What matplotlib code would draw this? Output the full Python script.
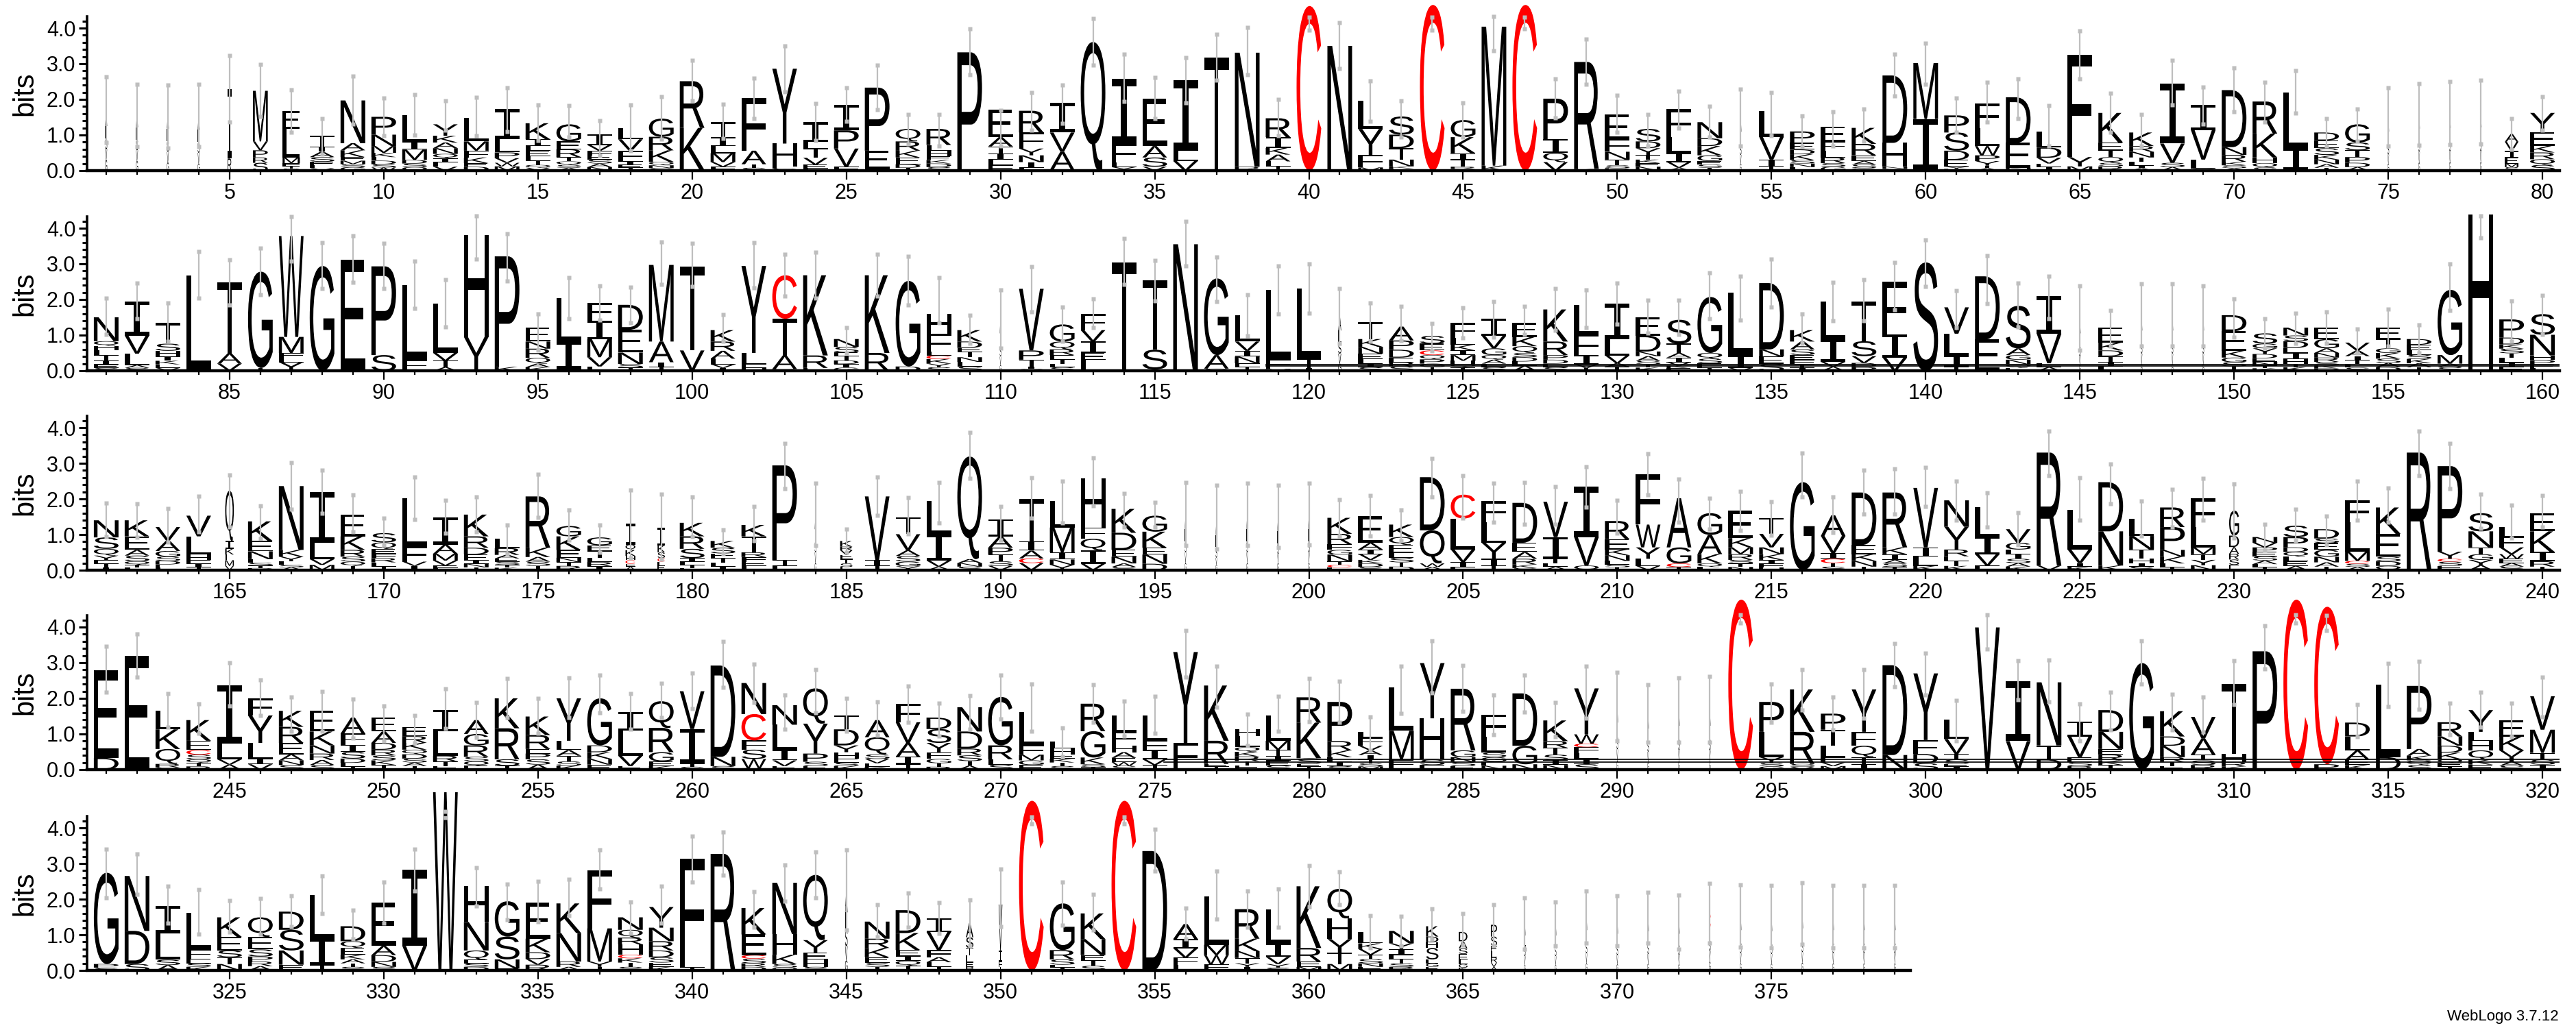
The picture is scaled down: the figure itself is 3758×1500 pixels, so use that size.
import numpy as np
import matplotlib
matplotlib.use("Agg")
import matplotlib.pyplot as plt
from matplotlib.textpath import TextPath
from matplotlib.patches import PathPatch
from matplotlib.font_manager import FontProperties
from matplotlib.transforms import Affine2D

plt.rcParams['font.family'] = ['Liberation Sans', 'DejaVu Sans']

# each row of the logo: first and last position
row_ranges = [(1, 80), (81, 160), (161, 240), (241, 320), (321, 379)]

# letter stacks, one string per position, letters listed top -> bottom with height in bits
stacks_row1 = [
    "A0.4 L0.35 S0.3 V0.3 G0.3", "A0.4 L0.35 S0.3 V0.3 G0.27", "A0.4 L0.35 S0.3 V0.3 G0.23", "A0.4 L0.35 S0.3 V0.3 G0.2",
    "I1.95 R0.34", "M1.42 V0.25 P0.2 R0.15 S0.22", "E0.5 L0.8 M0.16 F0.08 T0.07 S0.06", "T0.3 I0.15 A0.15 S0.13 E0.1 L0.08 V0.07",
    "N1.2 A0.2 K0.19 E0.1 M0.1 S0.08 G0.1", "P0.5 N0.32 M0.19 K0.12 L0.1 D0.1 S0.09 W0.09",
    "L0.74 I0.22 M0.29 D0.1 S0.1 Q0.1", "Y0.32 K0.19 A0.16 N0.16 Q0.12 I0.12 L0.12 V0.11",
    "L0.67 M0.26 F0.19 K0.16 E0.1 D0.11", "I0.84 L0.38 P0.16 V0.13 W0.1 M0.12",
    "K0.45 I0.19 L0.13 E0.15 F0.12 T0.13 Q0.08 V0.08", "G0.48 E0.22 R0.22 T0.12 Q0.1 S0.08 A0.08",
    "I0.29 V0.16 F0.13 E0.12 S0.11 A0.1 N0.1", "L0.32 V0.32 F0.29 I0.1 E0.09 T0.08",
    "G0.51 R0.38 K0.32 Q0.1 N0.08 S0.07", "R1.31 K1.18 S0.02",
    "T0.42 I0.25 L0.2 M0.25 V0.13 F0.11", "F1.47 A0.38 T0.1 S0.08", "Y2.1 H0.64 E0.06 S0.06",
    "I0.55 L0.19 T0.26 V0.19 E0.1 F0.07", "I0.72 P0.51 V0.51 F0.11", "P1.77 E0.51 T0.05",
    "Q0.35 R0.26 K0.19 E0.19 D0.1 T0.08", "R0.45 L0.16 H0.16 E0.1 K0.1 D0.1 S0.1", "P3.32",
    "E0.77 A0.26 T0.2 I0.18 L0.15 F0.15", "R0.61 F0.45 Y0.19 N0.19 I0.16 L0.08", "I0.83 V0.54 A0.51 L0.02",
    "Q3.61", "I1.82 F0.51 L0.14 Y0.1", "E1.33 A0.32 S0.26 V0.11", "I1.98 L0.29 V0.27", "T3.17", "N3.2 R0.11",
    "R0.53 I0.3 K0.19 A0.19 L0.14 T0.12", "C4.62", "N3.48 S0.02", "L0.8 Y0.73 F0.35 M0.09",
    "S0.51 D0.38 T0.32 N0.19 K0.06 E0.06", "C4.65", "G0.48 K0.45 I0.19 T0.19 R0.06 Q0.05", "M3.9 K0.14",
    "C4.65", "P1.14 I0.38 Q0.26 V0.24", "R3.0 K0.05", "E0.7 F0.35 N0.22 T0.16 S0.08 D0.07",
    "S0.35 D0.19 Y0.19 T0.13 K0.1 E0.1 N0.11", "F0.78 L0.45 I0.26 V0.16 A0.08",
    "N0.45 D0.22 K0.26 G0.16 E0.1 S0.09 T0.08", "A0.4 L0.35 S0.3 V0.24 G0.2", "L0.72 V0.64 I0.19 T0.12",
    "P0.32 E0.19 D0.13 K0.16 S0.1 N0.1 L0.1", "E0.41 F0.26 L0.19 R0.16 S0.1 G0.11",
    "K0.45 R0.32 E0.16 A0.1 S0.1 G0.07", "D1.89 H0.67 N0.06 S0.05", "M1.57 I1.45",
    "P0.48 S0.51 D0.26 E0.19 Y0.06 K0.05", "F0.69 L0.51 W0.26 P0.16 Y0.13 T0.07 A0.07", "D1.28 E0.7 N0.04 S0.04",
    "L0.45 D0.29 V0.16 E0.1 I0.1", "F2.87 Y0.26 M0.12", "K0.83 E0.22 T0.19 Q0.16 S0.1 R0.12",
    "K0.38 R0.16 N0.16 T0.12 L0.1 I0.08 A0.07", "I1.69 V0.54 S0.12 A0.1", "I0.7 V0.83 L0.26 S0.05",
    "D1.6 N0.22 R0.19 K0.1 S0.08 A0.07", "R0.9 K0.67 H0.16 Q0.12 S0.09", "L1.57 I0.6 V0.02",
    "D0.22 E0.22 S0.19 K0.13 N0.13 A0.1 T0.08", "G0.51 S0.22 T0.19 P0.16 D0.12 A0.1",
    "A0.4 L0.35 S0.3 V0.25 G0.2", "A0.4 L0.35 S0.3 V0.3 G0.23", "A0.42 L0.36 S0.3 V0.3 G0.24",
    "A0.42 L0.36 S0.32 V0.3 G0.24", "A0.22 V0.26 I0.19 E0.16 M0.1 S0.1", "Y0.54 E0.38 K0.19 R0.19 Q0.16 S0.16",
]
err_hi_row1 = [2.64, 2.42, 2.40, 2.42, 3.23, 2.99, 2.26, 1.47, 2.65, 2.03, 2.13, 1.97, 2.06, 2.33, 1.85, 1.82,
               1.41, 1.85, 2.08, 3.1, 1.87, 2.6, 3.5, 1.89, 2.33, 2.96, 1.57, 1.58, 3.98, 1.7, 2.2, 2.4, 4.27,
               3.26, 2.62, 3.18, 3.83, 4.01, 2.0, 4.3, 4.15, 2.51, 1.97, 4.3, 1.9, 4.33, 4.3, 2.57, 3.7, 2.11,
               1.57, 2.24, 1.81, 2.29, 2.19, 1.53, 1.66, 1.74, 3.26, 3.58, 2.03, 2.48, 2.57, 1.82, 3.92, 2.17,
               1.57, 3.09, 2.35, 2.89, 2.49, 2.8, 1.46, 1.74, 2.32, 2.45, 2.5, 2.54, 1.47, 2.08]
err_lo_row1 = [0.79, 0.68, 0.64, 0.68, 1.36, 1.52, 1.07, 0.47, 1.3, 0.98, 1.0, 1.14, 0.98, 1.1, 0.85, 0.95,
               0.43, 0.56, 0.88, 1.97, 0.91, 1.46, 2.22, 0.85, 1.39, 1.71, 0.75, 0.69, 2.69, 0.69, 1.14, 1.33,
               2.96, 1.94, 1.46, 1.9, 2.53, 2.7, 0.98, 3.95, 2.86, 1.39, 0.95, 3.95, 0.95, 3.37, 3.98, 1.49,
               2.42, 1.07, 0.69, 1.2, 0.95, 0.69, 0.98, 0.69, 0.69, 0.82, 2.1, 2.42, 1.07, 1.36, 1.46, 0.69,
               2.57, 1.07, 0.69, 1.84, 1.3, 1.65, 1.36, 1.62, 0.69, 0.82, 0.69, 0.72, 0.74, 0.75, 0.6, 1.14]

stacks_row2 = [
    "N0.67 Q0.13 H0.13 L0.14 T0.14 I0.12 E0.09 S0.08", "I0.96 V0.51 L0.32 A0.08 S0.08",
    "T0.58 S0.2 H0.16 I0.12 K0.1 E0.1 V0.08", "L2.68", "T2.0 A0.29 V0.2", "G2.7 T0.08",
    "W2.83 M0.45 F0.13 L0.13 Y0.24", "G2.94", "E3.12", "P2.49 S0.44", "L2.1 F0.31", "L1.38 V0.22 T0.18 A0.1",
    "H2.86 Y0.95", "P3.1 K0.11", "E0.4 N0.2 R0.26 Q0.16 A0.1 K0.1", "L1.22 I0.77 F0.05",
    "F0.51 I0.51 M0.51 V0.26 L0.12", "D0.7 E0.64 N0.32 S0.1 T0.09", "M2.15 A0.58 I0.14 T0.1", "T2.36 V0.57",
    "K0.32 R0.26 A0.22 L0.16 V0.1 I0.08", "Y2.44 L0.32 E0.1 H0.08", "C1.22 T1.03 A0.38 R0.05",
    "K2.25 R0.35 E0.08", "N0.22 S0.16 E0.1 T0.12 D0.1 I0.1 G0.09", "K2.18 R0.5", "G2.4 D0.12",
    "H0.55 F0.51 L0.1 C0.1 K0.13 Y0.1 S0.1", "K0.32 D0.18 E0.11 T0.15 N0.13 L0.13 S0.12",
    "A0.4 L0.35 S0.3 V0.24 G0.16", "V1.73 P0.26 T0.19 I0.07 S0.05", "G0.48 Q0.22 R0.16 E0.12 T0.12 L0.1 S0.1",
    "F0.45 V0.32 I0.32 E0.2 L0.3", "T3.0 A0.04", "T1.95 S0.55 I0.04", "N3.55", "G2.15 A0.38 S0.06",
    "L0.74 V0.26 I0.16 N0.19 F0.1 T0.11", "L1.95 F0.27 M0.05", "L1.96 T0.26 I0.08",
    "A0.4 L0.35 S0.3 V0.28 G0.2", "T0.48 K0.22 N0.19 E0.16 L0.12 I0.1 S0.1", "A0.39 P0.26 D0.22 E0.13 R0.12 S0.12",
    "S0.22 E0.19 C0.13 Q0.12 P0.12 G0.1 T0.1", "F0.42 L0.19 K0.16 I0.13 M0.16 H0.1 Q0.09 T0.09",
    "I0.48 V0.35 G0.19 Q0.13 A0.11 L0.1 S0.1", "E0.39 K0.26 Q0.19 S0.12 D0.12 L0.12 A0.14",
    "K0.9 R0.38 P0.13 D0.11 E0.1 S0.1", "L0.83 F0.58 I0.26 V0.1 T0.08", "I1.0 L0.45 V0.22 A0.1 T0.11",
    "E0.51 D0.45 N0.13 A0.13 S0.1 T0.09 K0.09", "S0.67 T0.26 A0.13 I0.13 V0.1 K0.07 E0.07",
    "G1.57 Q0.16 S0.13 E0.12 T0.09", "L1.77 I0.35 V0.08", "D1.86 N0.2 E0.2 S0.2",
    "K0.32 A0.22 S0.16 E0.13 F0.12 T0.1 I0.09", "L1.06 I0.64 V0.14 A0.11", "T1.12 S0.42 V0.19 D0.12 P0.1",
    "F1.49 I0.64 V0.37", "S3.04", "V0.74 L0.61 I0.32 T0.11", "D1.77 E0.88", "S1.19 A0.19 G0.13 N0.13 Q0.1 E0.08",
    "I1.06 V0.83 L0.11 A0.1", "A0.4 L0.35 S0.3 V0.24 G0.16", "E0.42 K0.22 D0.16 T0.16 I0.13 L0.12",
    "A0.42 L0.35 S0.3 V0.28 G0.2", "A0.42 L0.35 S0.3 V0.28 G0.2", "A0.42 L0.35 S0.3 V0.28 G0.2",
    "D0.45 E0.55 K0.19 G0.13 S0.12 T0.12", "S0.29 G0.13 Y0.16 D0.12 E0.1 N0.1 T0.08 K0.07",
    "N0.22 S0.16 D0.19 E0.13 I0.19 H0.12 T0.1 K0.1", "E0.32 G0.26 A0.13 N0.13 R0.12 S0.1 K0.08 D0.07",
    "V0.22 A0.16 I0.12 T0.1 L0.1 S0.09", "E0.32 T0.26 G0.13 K0.16 S0.12 A0.12 D0.1",
    "D0.16 E0.16 L0.12 S0.12 K0.12 A0.11 T0.1", "G1.83 M0.24 A0.1 S0.1", "H4.38",
    "P0.51 D0.19 K0.12 S0.13 T0.13 L0.13 I0.13 E0.1", "S0.58 N0.58 H0.13 P0.13 E0.1 L0.07",
]
err_hi_row2 = [2.04, 2.47, 1.9, 3.34, 3.12, 3.45, 4.33, 3.6, 3.78, 3.57, 3.07, 2.56, 4.34, 3.85, 1.59, 2.61,
               2.39, 2.35, 3.61, 3.58, 1.58, 3.6, 3.27, 3.33, 1.22, 3.27, 3.21, 2.61, 1.56, 2.27, 2.93, 1.78,
               2.01, 3.71, 3.09, 4.19, 3.2, 2.14, 2.94, 3.0, 2.3, 1.91, 1.8, 1.32, 1.77, 1.95, 1.8, 2.3, 2.27,
               2.46, 1.98, 1.99, 2.75, 2.65, 3.13, 1.59, 2.48, 2.56, 3.04, 3.68, 2.25, 3.23, 2.46, 2.65, 2.39,
               1.69, 2.44, 2.44, 2.39, 2.01, 1.46, 1.61, 1.66, 1.17, 1.74, 1.28, 3.0, 4.35, 1.96, 2.11]
err_lo_row2 = [1.01, 1.46, 0.82, 2.04, 1.85, 2.14, 3.07, 2.3, 2.49, 2.3, 1.75, 1.24, 3.13, 2.52, 0.57, 1.46,
               1.43, 1.34, 2.43, 2.36, 0.82, 2.33, 2.1, 2.03, 0.5, 2.1, 1.85, 1.34, 0.76, 0.63, 1.66, 0.82,
               1.21, 2.43, 1.96, 2.94, 1.95, 0.98, 1.59, 1.62, 0.76, 0.82, 0.85, 0.56, 0.92, 0.95, 1.01, 1.14,
               1.21, 1.3, 1.05, 1.01, 1.46, 1.43, 1.78, 0.76, 1.4, 1.4, 1.72, 2.36, 1.21, 1.88, 1.24, 1.46,
               0.57, 0.69, 0.69, 0.69, 0.69, 0.95, 0.63, 0.76, 0.76, 0.5, 0.69, 0.5, 1.69, 3.74, 0.82, 1.01]

stacks_row3 = [
    "N0.48 S0.32 Q0.19 Y0.13 E0.1 T0.1 I0.08", "K0.45 E0.38 A0.16 S0.16 Q0.1 T0.08 L0.07",
    "V0.38 A0.29 G0.16 S0.12 D0.1 E0.09 L0.07", "V0.58 L0.51 H0.16 E0.1 I0.09 T0.09",
    "Q1.41 I0.22 K0.16 L0.16 M0.16 V0.12", "K0.55 E0.29 N0.22 L0.1 S0.08 T0.07 D0.06",
    "N1.79 K0.19 Y0.13 L0.1 S0.07 A0.08", "I1.44 L0.45 V0.16 M0.15", "E0.61 K0.38 R0.19 S0.14 Q0.12 T0.12",
    "S0.26 Q0.19 E0.13 F0.12 R0.12 L0.11 T0.11", "L1.35 F0.42 V0.12 I0.12", "I0.77 A0.26 M0.19 V0.14 E0.07 L0.06",
    "K0.61 R0.32 D0.19 E0.16 I0.1 N0.1 T0.08", "L0.26 R0.19 A0.1 E0.1 S0.08 T0.08 K0.07",
    "R1.44 K0.26 A0.13 S0.12 T0.12", "G0.29 K0.38 E0.22 N0.12 T0.11 R0.12", "G0.22 E0.16 T0.19 L0.12 R0.12 I0.11",
    "I0.58 Q0.16 K0.16 H0.12 C0.1 E0.08 A0.1", "I0.5 K0.2 S0.16 C0.1 L0.12 E0.12",
    "K0.38 R0.35 S0.26 I0.1 L0.1 T0.08 E0.06", "K0.19 S0.16 E0.13 T0.12 L0.12 I0.1",
    "K0.32 T0.45 R0.13 F0.13 E0.12 L0.12", "P2.66 T0.15 F0.13", "A0.4 L0.35 S0.3 V0.3 G0.2",
    "K0.16 R0.1 V0.13 E0.12 T0.12 S0.1 L0.09", "V1.79 I0.16 T0.12", "T0.48 V0.45 A0.16 S0.16 G0.13 Y0.11",
    "L0.93 I0.74 V0.17 A0.1", "Q2.88 A0.11 N0.1 S0.1", "I0.48 A0.32 P0.19 T0.19 S0.13 V0.12",
    "T1.19 I0.26 A0.22 C0.13 V0.2", "L0.74 M0.7 I0.2 N0.15 Y0.15", "H1.38 F0.32 Q0.32 I0.38 V0.18",
    "K0.67 D0.48 E0.19 N0.19 A0.1 S0.09", "G0.45 K0.45 E0.19 N0.26 D0.18", "A0.4 L0.35 S0.3 V0.3 G0.2",
    "A0.4 L0.34 S0.3 V0.2 G0.15", "A0.4 L0.35 S0.3 V0.3 G0.2", "A0.4 L0.34 S0.3 V0.25 G0.2",
    "A0.4 L0.35 S0.3 V0.3 G0.2", "K0.45 R0.29 F0.16 G0.13 N0.19 T0.1 C0.07 E0.08",
    "E0.74 A0.19 I0.13 V0.16 K0.1 D0.1 S0.09", "K0.35 Q0.22 E0.22 L0.14 S0.13 T0.12 D0.1",
    "D1.49 Q0.93 W0.1 A0.09", "C0.67 L0.87 V0.35 I0.15 E0.08", "F0.59 L0.58 Y0.45 I0.2 T0.12",
    "D1.12 E0.26 A0.19 R0.16 K0.1 S0.06", "V0.99 I0.61 T0.12 E0.1 A0.1", "I1.41 V0.8 Q0.13",
    "R0.51 E0.29 K0.16 N0.16 L0.1 S0.08 T0.08", "F1.41 W0.64 Y0.32 L0.2 V0.12", "A1.38 G0.45 C0.1 T0.09",
    "G0.61 A0.54 K0.26 Q0.1 L0.09", "E0.77 K0.26 M0.19 R0.16 S0.1 T0.1 N0.09",
    "T0.45 V0.38 N0.19 K0.16 I0.11 F0.1 H0.08", "G2.47", "A0.58 V0.48 I0.16 C0.12 T0.1 S0.1",
    "D1.47 E0.26 K0.19 N0.16 T0.1", "R1.54 K0.19 I0.16 A0.1 S0.1 T0.09", "V1.67 I0.26 L0.26 K0.12",
    "N0.74 Y0.64 R0.19 E0.13 T0.14 K0.12", "L0.83 I0.48 V0.32 F0.13", "V0.38 G0.19 L0.13 I0.13 S0.12 A0.1 K0.1",
    "R3.17 V0.13", "L1.12 V0.38 I0.1 K0.1", "D1.38 N0.96 K0.13", "L0.48 N0.38 T0.26 H0.12 I0.1 S0.1",
    "R0.55 P0.64 N0.19 K0.19 L0.1 T0.09", "F0.8 L0.58 M0.19 T0.16 Y0.15 N0.14",
    "G0.7 D0.32 A0.19 R0.16 S0.15 E0.15", "N0.16 V0.13 P0.13 E0.12 S0.12 A0.1 L0.09 T0.08",
    "S0.32 P0.29 D0.13 Q0.13 L0.13 E0.13 A0.12", "D0.26 S0.13 E0.19 G0.19 N0.16 A0.12 T0.1",
    "F0.61 L0.83 M0.26 C0.08 S0.09 A0.09", "K0.74 E0.64 S0.13 D0.13 Q0.12", "R3.3",
    "P2.4 Y0.2 C0.08 S0.12 E0.12", "S0.51 N0.45 T0.19 G0.16 Y0.15 A0.14",
    "L0.29 F0.29 V0.19 W0.13 E0.12 A0.1 S0.1", "E0.51 K0.58 I0.26 R0.15 T0.1",
]
err_hi_row3 = [1.88, 1.87, 1.73, 2.07, 2.68, 1.81, 3.01, 2.81, 2.12, 1.46, 2.62, 1.97, 2.05, 1.27, 2.69, 1.69,
               1.27, 2.25, 2.13, 2.05, 1.14, 1.79, 3.56, 2.44, 1.16, 2.62, 2.03, 2.46, 3.87, 1.79, 2.6, 2.5,
               3.16, 2.15, 1.91, 2.46, 2.39, 2.44, 2.39, 2.44, 1.99, 2.1, 1.7, 3.14, 2.66, 2.44, 2.47, 2.34,
               2.9, 1.96, 3.27, 2.55, 2.02, 2.21, 1.92, 3.28, 2.05, 2.81, 2.84, 2.88, 2.5, 2.18, 1.62, 3.91,
               2.6, 2.98, 1.94, 2.26, 2.58, 2.42, 1.28, 1.72, 1.51, 2.5, 2.31, 3.91, 3.56, 2.13, 1.83, 2.1]
err_lo_row3 = [0.95, 0.92, 0.79, 1.08, 1.21, 0.88, 1.72, 1.59, 1.08, 0.69, 1.43, 1.04, 1.08, 0.47, 1.49, 0.85,
               0.5, 0.35, 0.3, 0.95, 0.47, 0.82, 2.29, 0.69, 0.5, 1.53, 1.01, 1.33, 2.58, 0.85, 1.46, 1.33,
               1.81, 1.21, 1.21, 0.69, 0.6, 0.69, 0.63, 0.71, 0.96, 0.96, 0.83, 2.05, 1.47, 1.35, 1.28, 1.28,
               1.76, 1.03, 2.12, 1.35, 1.15, 1.12, 0.99, 2.05, 1.06, 1.57, 1.57, 1.79, 1.41, 1.22, 0.71, 2.66,
               1.41, 1.86, 0.96, 1.22, 1.41, 0.9, 0.55, 0.83, 0.71, 1.41, 1.35, 2.66, 2.28, 1.17, 0.9, 1.22]

stacks_row4 = [
    "E2.45 D0.33", "E3.19", "L0.52 K0.55 Q0.42 R0.1 S0.06", "K0.58 E0.26 C0.13 S0.13 Q0.1 T0.1 R0.09",
    "I1.63 L0.45 V0.15 A0.14", "F0.48 Y0.77 L0.45 I0.15 V0.15", "K0.45 R0.45 E0.32 A0.17 N0.13 S0.13",
    "E0.59 K0.39 N0.23 R0.18 A0.14 S0.13", "A0.45 F0.32 I0.19 S0.19 D0.12 L0.1 T0.09",
    "E0.39 A0.32 D0.19 R0.16 S0.14 K0.13 T0.13", "E0.26 R0.19 K0.19 Q0.13 D0.12 S0.11 A0.1 T0.1",
    "I0.61 L0.68 R0.16 T0.13 E0.1", "A0.39 G0.32 R0.32 S0.13 Q0.12 E0.11", "K0.84 R0.87 S0.18 T0.11",
    "K0.52 R0.39 E0.13 P0.16 S0.15 A0.14", "Y1.19 L0.26 A0.16 T0.16 S0.12 K0.11", "G1.32 D0.19 K0.19 N0.16 E0.14",
    "I0.52 L0.71 V0.29 E0.1", "Q0.75 R0.68 G0.26 E0.13 K0.1", "V1.06 I0.97 T0.09 S0.08", "D2.56 N0.26 S0.1",
    "N0.87 C0.74 F0.26 S0.26 W0.26 Y0.04", "N0.55 L0.71 I0.29 V0.16 E0.1", "Q0.99 Y0.84 P0.23 S0.12 E0.1",
    "T0.39 D0.45 Y0.19 H0.19 E0.1 S0.1 K0.1", "A0.48 Q0.48 S0.13 V0.12 E0.1 K0.08", "F0.52 V0.58 A0.39 I0.2 T0.16",
    "D0.32 S0.39 Y0.26 F0.19 G0.12 T0.1 R0.08", "N0.68 D0.48 R0.19 S0.16 T0.13 A0.11", "G1.36 R0.39 L0.15 S0.14",
    "L0.94 F0.26 M0.16 G0.13 E0.13", "L0.19 H0.16 E0.12 K0.11 T0.1 S0.1", "R0.77 G0.74 K0.19 S0.08 T0.07",
    "L0.45 F0.39 H0.19 A0.16 E0.12 W0.1 S0.11", "L0.71 F0.26 I0.26 V0.16 T0.13", "Y2.55 F0.71 L0.04",
    "K1.55 R0.65 E0.08 T0.08", "H0.19 L0.32 Q0.13 K0.13 R0.13 T0.12 E0.12", "L0.71 M0.26 T0.16 I0.14 E0.13 S0.12",
    "R0.71 K1.0 S0.16 E0.08 T0.08", "P1.1 R0.26 K0.19 L0.13 I0.12 S0.1",
    "L0.16 F0.23 V0.13 A0.13 I0.13 T0.1 S0.09 M0.09", "L1.21 M0.81 F0.26 E0.02", "Y1.55 H1.16 S0.15 F0.13",
    "R1.73 G0.19 N0.13 S0.12 E0.1", "F0.61 L0.45 S0.13 G0.12 E0.12 N0.11", "D1.47 G0.52 N0.15",
    "K0.58 R0.19 T0.19 S0.16 I0.13 N0.13", "Y1.29 W0.26 C0.1 F0.16 L0.16 I0.16 S0.15",
    "A0.45 L0.4 S0.35 V0.32 G0.25", "A0.4 L0.35 S0.3 V0.3 G0.2", "A0.42 L0.37 S0.32 V0.3 G0.24",
    "A0.42 L0.37 S0.32 V0.3 G0.24", "C4.77", "P0.84 L0.71 Y0.16 S0.1 G0.09", "K1.19 R0.9 S0.08 V0.08",
    "P0.45 T0.45 L0.32 F0.15 V0.1 M0.1", "Y1.19 F0.39 Q0.32 T0.2 I0.15", "D2.52 N0.41", "Y1.87 F0.39 D0.26 S0.18",
    "L0.55 V0.42 T0.16 S0.12 E0.08 I0.08", "V3.99", "I1.69 V0.8", "N1.77 T0.39 D0.29",
    "I0.42 V0.58 E0.13 S0.12 R0.1", "D0.61 N0.48 E0.16 R0.16 K0.13 T0.13", "G2.99",
    "K0.71 D0.26 N0.32 R0.13 T0.12 E0.1", "V0.61 A0.45 T0.16 S0.13 R0.13", "T1.97 H0.23 R0.12 K0.09", "P3.32",
    "C4.77", "C4.42 P0.15", "D0.39 L0.39 A0.26 E0.15 K0.13", "L2.03 D0.35", "P1.77 A0.19 K0.13 Q0.13 S0.13",
    "R0.4 N0.26 D0.19 K0.19 Q0.1 E0.1 T0.09", "Y0.61 L0.26 H0.26 Q0.26 K0.14 E0.14",
    "E0.45 K0.39 V0.19 T0.12 A0.12 S0.11", "V0.94 M0.65 T0.19 S0.14 I0.14",
]
err_hi_row4 = [3.46, 3.81, 2.14, 1.85, 3.0, 2.52, 2.03, 2.2, 1.99, 1.79, 1.52, 2.26, 1.89, 2.55, 2.0, 2.57,
               2.65, 2.14, 2.43, 2.72, 3.59, 2.97, 2.1, 2.81, 2.0, 1.91, 2.34, 1.86, 2.07, 2.66, 2.41, 1.17,
               2.38, 1.92, 2.05, 3.91, 2.91, 1.55, 2.05, 2.55, 2.48, 1.48, 2.9, 3.61, 2.92, 2.09, 2.66, 1.88,
               2.9, 2.74, 2.38, 2.57, 2.62, 4.35, 2.41, 2.8, 2.03, 2.8, 3.54, 3.26, 1.95, 4.35, 3.06, 3.08,
               1.85, 2.17, 3.61, 2.12, 2.03, 3.06, 4.03, 4.35, 4.32, 1.83, 2.99, 3.03, 1.86, 2.17, 1.86, 2.59]
err_lo_row4 = [2.17, 2.59, 1.2, 1.01, 1.78, 1.52, 1.07, 1.07, 0.88, 0.81, 0.75, 1.15, 0.91, 1.46, 1.01, 1.46,
               1.59, 1.14, 1.46, 1.72, 2.3, 1.88, 1.14, 1.59, 1.07, 0.97, 1.33, 0.94, 1.14, 1.43, 1.07, 0.36,
               1.33, 0.94, 1.01, 2.59, 1.75, 0.68, 1.07, 1.35, 1.32, 0.54, 1.57, 2.15, 1.64, 0.99, 1.61, 0.93,
               1.45, 0.8, 0.77, 0.77, 0.77, 4.12, 1.32, 1.67, 1.12, 1.45, 2.32, 2.09, 0.8, 3.38, 1.96, 1.9,
               0.8, 1.12, 2.41, 1.12, 1.06, 1.83, 2.83, 4.12, 3.9, 0.93, 1.77, 1.7, 0.99, 1.19, 0.93, 1.48]

stacks_row5 = [
    "G2.56 P0.1 S0.08", "N1.54 D0.93 S0.18", "I0.77 L0.74 S0.15 A0.15", "L1.03 F0.26 E0.13 S0.1 K0.1",
    "K0.55 E0.38 S0.19 T0.19 N0.18", "Q0.55 E0.35 S0.2 P0.14 R0.13 A0.12", "D0.51 S0.58 N0.4 E0.16",
    "L1.23 I0.74 T0.15", "D0.42 Q0.19 E0.19 K0.13 A0.11 T0.1 S0.1", "E1.22 A0.26 D0.19 N0.14 S0.1",
    "I2.13 V0.69", "W5.0", "H1.0 N0.8 Q0.26 E0.1 S0.1 D0.1", "G0.99 S0.64 N0.26 E0.05",
    "E1.02 K0.38 D0.19 V0.16 R0.16", "K0.83 N0.8 R0.15 A0.1", "F1.63 M0.93 Y0.15 T0.1",
    "N0.35 Q0.22 R0.19 H0.29 C0.1 K0.12 T0.12 S0.1", "Y0.58 N0.38 R0.26 D0.19 S0.15 E0.12 K0.1",
    "F2.95 L0.1 T0.08", "R3.27", "K0.74 E0.58 C0.1 S0.13 R0.1 D0.1", "N1.44 H0.58 K0.26 S0.1 Q0.08",
    "Q1.83 Y0.35 E0.2 H0.2 S0.1", "A0.6 L0.5 S0.45 V0.4 G0.28", "N0.48 R0.26 K0.26 E0.16 S0.11 T0.1",
    "D0.64 K0.48 E0.16 I0.14 Q0.14 T0.13", "I0.38 V0.51 F0.2 A0.14 L0.13 T0.1", "A0.4 S0.3 T0.2 L0.2 E0.13 P0.1",
    "V1.3 I0.3 F0.15 T0.1", "C4.76", "G1.31 R0.26 S0.15 L0.08 T0.08", "K0.72 N0.45 E0.15 T0.15 S0.13", "C4.76",
    "D3.35", "A0.42 I0.26 V0.26 F0.2 L0.16", "L1.35 M0.29 W0.26 F0.17", "R0.83 K0.35 N0.19 T0.15 Y0.1 I0.1",
    "L0.96 I0.38 V0.2 Y0.1 S0.08", "K1.73 R0.38 E0.15 M0.1", "Q0.83 H0.58 Y0.38 T0.32 M0.18",
    "L0.32 K0.16 V0.16 T0.12 S0.12 N0.1 E0.1", "N0.35 Y0.16 I0.16 E0.12 T0.12 S0.1 R0.1",
    "K0.29 D0.16 H0.16 S0.32 L0.11 G0.1 E0.1", "D0.26 A0.2 S0.16 E0.16 L0.12 G0.1 K0.08",
    "P0.33 S0.26 E0.16 L0.16 R0.15 V0.12 A0.1", "A0.35 L0.3 S0.28 V0.25 G0.15", "A0.35 L0.3 S0.28 V0.25 G0.15",
    "A0.4 L0.35 S0.3 V0.28 G0.2", "A0.37 L0.31 S0.29 V0.26 G0.17", "A0.39 L0.34 S0.3 V0.27 G0.19",
    "A0.37 L0.31 S0.29 V0.26 G0.17", "C0.39 L0.35 S0.3 V0.3 G0.25", "A0.4 L0.35 S0.3 V0.28 G0.2",
    "A0.39 L0.34 S0.3 V0.27 G0.19", "A0.42 L0.36 S0.31 V0.29 G0.22", "A0.4 L0.35 S0.3 V0.28 G0.2",
    "A0.4 L0.35 S0.3 V0.28 G0.2", "A0.4 L0.35 S0.3 V0.28 G0.2",
]
err_hi_row5 = [3.4, 3.26, 2.36, 2.26, 1.97, 2.01, 2.1, 2.65, 1.7, 2.49, 3.4, 4.47, 2.88, 2.42, 2.5, 2.55,
               3.38, 1.92, 2.36, 3.77, 3.88, 2.22, 2.97, 3.32, 3.38, 1.85, 2.17, 1.91, 1.99, 2.84, 4.31, 2.49,
               2.13, 4.31, 3.97, 1.75, 2.78, 2.24, 2.28, 2.94, 2.76, 1.54, 1.51, 1.73, 1.6, 1.85, 2.03, 1.92,
               2.24, 2.09, 2.2, 2.12, 2.44, 2.4, 2.38, 2.47, 2.38, 2.38, 2.38]
err_lo_row5 = [2.04, 2.13, 1.33, 1.01, 1.08, 1.01, 1.24, 1.59, 0.88, 1.33, 2.23, 4.28, 1.81, 1.43, 1.37, 1.53,
               2.29, 1.04, 1.33, 2.49, 2.68, 1.21, 1.94, 2.04, 1.14, 0.95, 1.21, 1.04, 0.69, 1.24, 4.12, 1.27,
               1.14, 4.12, 2.79, 0.88, 1.44, 1.21, 1.21, 1.78, 1.85, 0.63, 0.69, 0.88, 0.72, 0.69, 0.6, 0.69,
               0.76, 0.69, 0.76, 0.6, 0.76, 0.66, 0.63, 0.74, 0.64, 0.63, 0.64]

# positions whose stacks are narrower (fraction of full stack width)
narrow = {1: 0.08, 2: 0.08, 3: 0.08, 4: 0.08, 5: 0.15, 6: 0.6, 7: 0.7, 54: 0.06, 75: 0.06, 76: 0.06,
          77: 0.06, 78: 0.06, 79: 0.55, 110: 0.06, 121: 0.12, 145: 0.06, 147: 0.06, 148: 0.06, 149: 0.06,
          165: 0.35, 178: 0.4, 179: 0.3, 184: 0.06, 185: 0.5, 196: 0.06, 197: 0.06, 198: 0.06, 199: 0.06,
          200: 0.06, 230: 0.4, 290: 0.06, 291: 0.06, 292: 0.06, 293: 0.06, 345: 0.1, 349: 0.3, 350: 0.15,
          364: 0.5, 365: 0.35, 366: 0.25, 367: 0.06, 368: 0.06, 369: 0.06, 370: 0.06, 371: 0.06, 372: 0.06,
          373: 0.06, 374: 0.06, 375: 0.06, 376: 0.06, 377: 0.06, 378: 0.06, 379: 0.06}

# thin horizontal rules near the baseline: (row index, start position, height in bits)
rules = [(1, 118.6, 0.13), (1, 118.6, 0.18), (3, 275.3, 0.21), (3, 275.3, 0.29)]

all_stacks = [stacks_row1, stacks_row2, stacks_row3, stacks_row4, stacks_row5]
all_hi = [err_hi_row1, err_hi_row2, err_hi_row3, err_hi_row4, err_hi_row5]
all_lo = [err_lo_row1, err_lo_row2, err_lo_row3, err_lo_row4, err_lo_row5]

letter_font = FontProperties(family='Liberation Sans')
serif_i_font = FontProperties(family='DejaVu Sans Mono')
glyph_cache = {}


def glyph(ch):
    if ch not in glyph_cache:
        fp = serif_i_font if ch == 'I' else letter_font
        glyph_cache[ch] = TextPath((0, 0), ch, size=1, prop=fp)
    return glyph_cache[ch]


def draw_letter(ax, ch, x, y0, w, h):
    p = glyph(ch)
    ext = p.get_extents()
    tr = (Affine2D().translate(-ext.x0, -ext.y0)
          .scale(w / ext.width, h / ext.height)
          .translate(x - w / 2, y0))
    color = '#ff0000' if ch == 'C' else 'black'
    ax.add_patch(PathPatch(tr.transform_path(p), facecolor=color, edgecolor='none',
                           lw=0, clip_on=False, zorder=2))


W, H = 3758, 1500
fig = plt.figure(figsize=(W / 100, H / 100), dpi=100)

px_per_pos = 44.99
baselines = [249, 541, 832, 1123, 1416]
left_px = 127
stack_w = 0.8
grey = '#bebebe'

for r, (start, end) in enumerate(row_ranges):
    x0 = start - 0.62
    x1 = end + 0.5 if r == 4 else end + 0.56
    width_px = (x1 - x0) * px_per_pos
    height_px = 4.32 * 52
    ax = fig.add_axes([left_px / W, 1 - baselines[r] / H, width_px / W, height_px / H])
    ax.set_xlim(x0, x1)
    ax.set_ylim(0, 4.32)

    positions = np.arange(start, end + 1)
    for pos, spec in zip(positions, all_stacks[r]):
        parts = [(s[0], float(s[1:])) for s in spec.split()]
        w = stack_w * narrow.get(int(pos), 1.0)
        y = 0.0
        for ch, h in reversed(parts):
            draw_letter(ax, ch, pos, y, w, h)
            y += h

    hi = np.array(all_hi[r])
    lo = np.array(all_lo[r])
    ax.vlines(positions, lo, hi, color=grey, lw=1.6, zorder=3)
    ax.plot(positions, hi, 's', ms=4.5, color=grey, mec='none', zorder=3, clip_on=False)
    ax.plot(positions, lo, 's', ms=4.5, color=grey, mec='none', zorder=3)

    for rr, xs, yv in rules:
        if rr == r:
            ax.plot([xs, x1], [yv, yv], color='black', lw=1.2, zorder=2.5)

    for side in ['top', 'right']:
        ax.spines[side].set_visible(False)
    ax.spines['left'].set_linewidth(2.6)
    ax.spines['bottom'].set_linewidth(3.2)

    major = [p for p in positions if p % 5 == 0]
    ax.set_xticks(major)
    ax.set_xticklabels([str(p) for p in major])
    ax.set_xticks(positions, minor=True)
    ax.tick_params(axis='x', which='major', length=9, width=1.6, labelsize=22, pad=4)
    ax.tick_params(axis='x', which='minor', length=4.5, width=1.6)

    ax.set_yticks([0, 1, 2, 3, 4])
    ax.set_yticklabels(['0.0', '1.0', '2.0', '3.0', '4.0'])
    ax.set_yticks(np.arange(0, 4.3, 0.2), minor=True)
    ax.tick_params(axis='y', which='major', length=9, width=2.2, labelsize=22, pad=3)
    ax.tick_params(axis='y', which='minor', length=5, width=2.2)

    ax.set_ylabel('bits', fontsize=30)
    ax.yaxis.set_label_coords((56 - left_px) / width_px, 0.5)

fig.text(3733 / W, 1 - 1483 / H, 'WebLogo 3.7.12', ha='right', va='center', fontsize=16)

fig.savefig('out.png', dpi=100)
